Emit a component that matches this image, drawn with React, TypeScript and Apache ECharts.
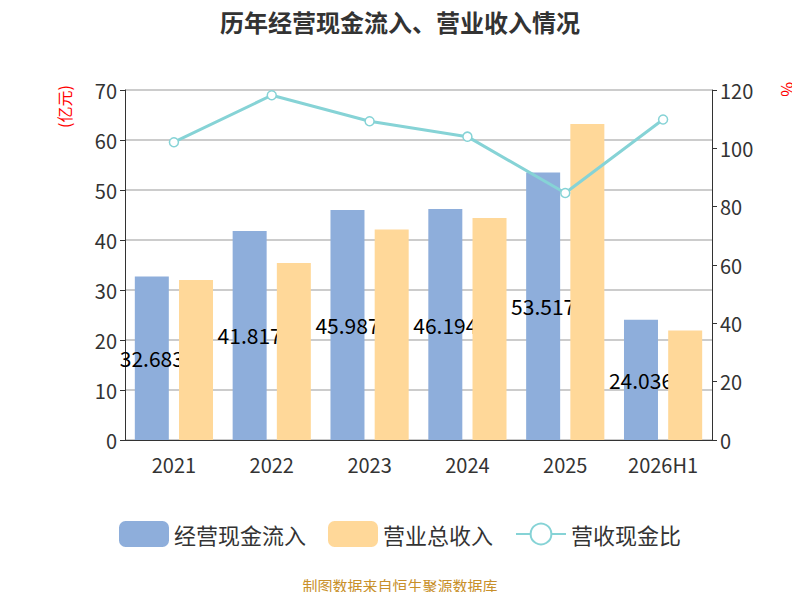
import { useEffect, useRef } from "react";
import * as echarts from "echarts";

const YEARS = ["2021", "2022", "2023", "2024", "2025", "2026H1"];
const CASH_IN = [32.683, 41.817, 45.987, 46.194, 53.517, 24.036];
const REVENUE = [32.0, 35.4, 42.1, 44.4, 63.2, 21.9];
const RATIO = [102.1, 118.2, 109.3, 104.0, 84.7, 109.9];

export default function App() {
  const ref = useRef<HTMLDivElement>(null);

  useEffect(() => {
    if (!ref.current) return;
    const chart = echarts.init(ref.current, null, { renderer: "svg" });
    const font = "'Noto Sans CJK SC', 'Noto Sans', sans-serif";
    chart.setOption({
      animation: false,
      textStyle: { fontFamily: font },
      title: {
        text: "历年经营现金流入、营业收入情况",
        left: "center",
        top: 4,
        textStyle: { fontSize: 24, fontWeight: "bold", color: "#333" },
      },
      grid: { left: 125, right: 88, top: 90, bottom: 160 },
      legend: {
        bottom: 48,
        itemWidth: 50,
        itemHeight: 26,
        itemGap: 22,
        textStyle: { fontSize: 22, color: "#333" },
        data: ["经营现金流入", "营业总收入", "营收现金比"],
      },
      xAxis: {
        type: "category",
        data: YEARS,
        axisLine: { lineStyle: { color: "#333" } },
        axisTick: { lineStyle: { color: "#333" } },
        axisLabel: { fontSize: 20, color: "#333", margin: 14 },
      },
      yAxis: [
        {
          type: "value",
          min: 0,
          max: 70,
          interval: 10,
          axisLine: { show: true, lineStyle: { color: "#333" } },
          axisTick: { show: true },
          axisLabel: { fontSize: 20, color: "#333" },
          splitLine: { lineStyle: { color: "#bbb", width: 1.5 } },
        },
        {
          type: "value",
          min: 0,
          max: 120,
          interval: 20,
          axisLine: { show: true, lineStyle: { color: "#333" } },
          axisTick: { show: true },
          axisLabel: { fontSize: 20, color: "#333" },
          splitLine: { show: false },
        },
      ],
      series: [
        {
          name: "经营现金流入",
          type: "bar",
          z: 2,
          data: CASH_IN,
          barWidth: 34,
          barGap: "30%",
          itemStyle: { color: "#8eaedb" },
          label: {
            show: true,
            position: "inside",
            color: "#000",
            fontSize: 21,
            formatter: (p: any) => p.value.toFixed(3),
          },
        },
        {
          name: "营业总收入",
          type: "bar",
          z: 3,
          data: REVENUE,
          barWidth: 34,
          itemStyle: { color: "#ffd899" },
        },
        {
          name: "营收现金比",
          type: "line",
          yAxisIndex: 1,
          z: 4,
          data: RATIO,
          symbol: "circle",
          symbolSize: 9,
          lineStyle: { color: "#86d3d6", width: 3 },
          itemStyle: { color: "#fff", borderColor: "#86d3d6", borderWidth: 1.5 },
        },
      ],
      graphic: [
        {
          type: "text",
          x: 56,
          y: 128,
          rotation: Math.PI / 2,
          style: { text: "(亿元)", fontSize: 16, fill: "red", fontFamily: font },
        },
        {
          type: "text",
          x: 796,
          y: 82,
          rotation: -Math.PI / 2,
          style: { text: "%", fontSize: 16, fill: "red", fontFamily: font },
        },
        {
          type: "text",
          left: "center",
          top: 578,
          style: { text: "制图数据来自恒生聚源数据库", fontSize: 15, fill: "#c8902a", fontFamily: font },
        },
      ],
    });
    return () => chart.dispose();
  }, []);

  return <div ref={ref} style={{ width: 800, height: 600, margin: -8 }} />;
}
